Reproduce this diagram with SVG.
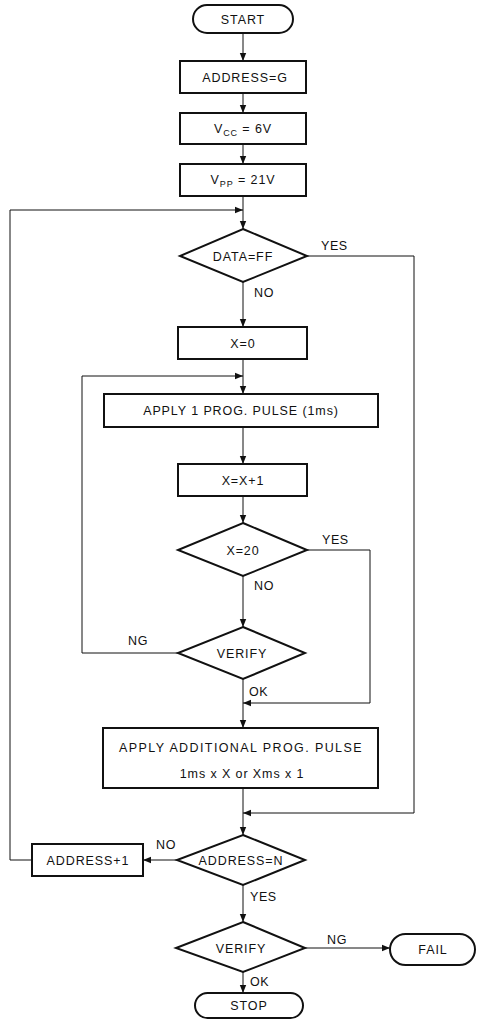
<svg xmlns="http://www.w3.org/2000/svg" width="480" height="1028" viewBox="0 0 480 1028">
<style>
.n{fill:#fff;stroke:#111;stroke-width:2}
.t{font-family:"Liberation Sans",Arial,sans-serif;font-size:12.5px;fill:#111;text-anchor:middle;letter-spacing:0.9px}
.l{font-family:"Liberation Sans",Arial,sans-serif;font-size:12.5px;fill:#111;letter-spacing:0.6px}
.c{fill:none;stroke:#111;stroke-width:1}
</style>
<defs>
<marker id="a" viewBox="0 0 10 10" refX="10" refY="5" markerWidth="8" markerHeight="8" markerUnits="userSpaceOnUse" orient="auto">
<path d="M0,1 L10,5 L0,9 Z" fill="#111"/>
</marker>
</defs>
<rect width="480" height="1028" fill="#fff"/>
<g id="connectors">
<path class="c" d="M243,33 V61" marker-end="url(#a)"/>
<path class="c" d="M243,93 V113" marker-end="url(#a)"/>
<path class="c" d="M243,144 V164" marker-end="url(#a)"/>
<path class="c" d="M243,196 V229" marker-end="url(#a)"/>
<path class="c" d="M32,860 H10 V210 H243" marker-end="url(#a)"/>
<path class="c" d="M307,256 H414 V813 H243" marker-end="url(#a)"/>
<path class="c" d="M243,281 V327" marker-end="url(#a)"/>
<path class="c" d="M243,359 V394" marker-end="url(#a)"/>
<path class="c" d="M178,653 H82 V376 H243" marker-end="url(#a)"/>
<path class="c" d="M243,427 V464" marker-end="url(#a)"/>
<path class="c" d="M243,496 V523" marker-end="url(#a)"/>
<path class="c" d="M307,550 H370 V703 H243" marker-end="url(#a)"/>
<path class="c" d="M243,576 V627" marker-end="url(#a)"/>
<path class="c" d="M243,679 V728" marker-end="url(#a)"/>
<path class="c" d="M243,788 V835" marker-end="url(#a)"/>
<path class="c" d="M177,860 H143" marker-end="url(#a)"/>
<path class="c" d="M243,885 V922" marker-end="url(#a)"/>
<path class="c" d="M305,948 H390" marker-end="url(#a)"/>
<path class="c" d="M243,972 V993" marker-end="url(#a)"/>
</g>
<g id="labels">
<text class="l" x="321" y="250">YES</text>
<text class="l" x="254" y="297">NO</text>
<text class="l" x="322" y="544">YES</text>
<text class="l" x="254" y="590">NO</text>
<text class="l" x="128" y="645">NG</text>
<text class="l" x="249" y="696">OK</text>
<text class="l" x="156" y="849">NO</text>
<text class="l" x="250" y="901">YES</text>
<text class="l" x="327" y="944">NG</text>
<text class="l" x="250" y="986">OK</text>
</g>
<g id="start"><rect class="n" x="193" y="5" width="100" height="28" rx="14"/><text class="t" x="243" y="24">START</text></g>
<g id="addrG"><rect class="n" x="180" y="61" width="126" height="32"/><text class="t" x="245" y="82">ADDRESS=G</text></g>
<g id="vcc"><rect class="n" x="180" y="113" width="126" height="31"/><text class="t" x="243" y="133">V<tspan font-size="9" dy="3">CC</tspan><tspan dy="-3"> = 6V</tspan></text></g>
<g id="vpp"><rect class="n" x="180" y="164" width="126" height="32"/><text class="t" x="243" y="184">V<tspan font-size="9" dy="3">PP</tspan><tspan dy="-3"> = 21V</tspan></text></g>
<g id="dataFF"><polygon class="n" points="243,229 307,256 243,282 180,256"/><text class="t" x="243" y="261">DATA=FF</text></g>
<g id="x0"><rect class="n" x="178" y="327" width="129" height="32"/><text class="t" x="243" y="348">X=0</text></g>
<g id="pulse"><rect class="n" x="104" y="394" width="274" height="33"/><text class="t" x="241" y="415">APPLY 1 PROG. PULSE (1ms)</text></g>
<g id="xinc"><rect class="n" x="178" y="464" width="129" height="32"/><text class="t" x="243" y="485">X=X+1</text></g>
<g id="x20"><polygon class="n" points="243,523 307,550 243,576 178,550"/><text class="t" x="243" y="555">X=20</text></g>
<g id="verify1"><polygon class="n" points="243,627 305,653 243,679 178,653"/><text class="t" x="242" y="658">VERIFY</text></g>
<g id="additional"><rect class="n" x="103" y="728" width="275" height="60"/><text class="t" x="241" y="752" style="letter-spacing:1.4px">APPLY ADDITIONAL PROG. PULSE</text><text class="t" x="242" y="778">1ms x X or Xms x 1</text></g>
<g id="addrN"><polygon class="n" points="243,835 305,860 243,885 177,860"/><text class="t" x="241" y="865">ADDRESS=N</text></g>
<g id="addrInc"><rect class="n" x="32" y="844" width="111" height="32"/><text class="t" x="88" y="865">ADDRESS+1</text></g>
<g id="verify2"><polygon class="n" points="243,922 305,948 243,972 176,948"/><text class="t" x="241" y="953">VERIFY</text></g>
<g id="fail"><rect class="n" x="390" y="934" width="85" height="31" rx="15.5"/><text class="t" x="433" y="954">FAIL</text></g>
<g id="stop"><rect class="n" x="195" y="993" width="108" height="25" rx="12.5"/><text class="t" x="249" y="1010">STOP</text></g>
</svg>
